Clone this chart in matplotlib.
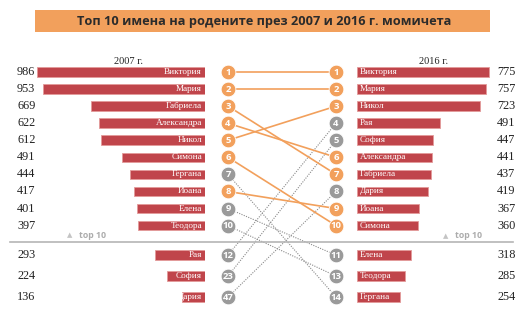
import matplotlib
matplotlib.use("Agg")
import matplotlib.pyplot as plt
from matplotlib.patches import Rectangle
from matplotlib.lines import Line2D

# ---------------- data ----------------
names_2007 = ["Виктория", "Мария", "Габриела", "Александра", "Никол", "Симона",
              "Гергана", "Йоана", "Елена", "Теодора", "Рая", "София", "Дария"]
counts_2007 = [986, 953, 669, 622, 612, 491, 444, 417, 401, 397, 293, 224, 136]
ranks_2007 = [1, 2, 3, 4, 5, 6, 7, 8, 9, 10, 12, 23, 47]

names_2016 = ["Виктория", "Мария", "Никол", "Рая", "София", "Александра",
              "Габриела", "Дария", "Йоана", "Симона", "Елена", "Теодора", "Гергана"]
counts_2016 = [775, 757, 723, 491, 447, 441, 437, 419, 367, 360, 318, 285, 254]
ranks_2016 = [1, 2, 3, 4, 5, 6, 7, 8, 9, 10, 11, 13, 14]

title = "Топ 10 имена на родените през 2007 и 2016 г. момичета"
year_left = "2007 г."
year_right = "2016 г."

# ---------------- layout / style ----------------
W, H = 520, 322
slot_y = [0, 1, 2, 3, 4, 5, 6, 7, 8, 9, 10.73, 11.96, 13.19]
YLIM = (14.65, -4.22)
SCALE = 0.17  # px per unit
BAR_C = "#C0454B"
BAR_EDGE = "#E39A9A"
ORANGE = "#F2A05C"
GRAY = "#9A9A9A"
SERIF = "Liberation Serif"

fig = plt.figure(figsize=(W / 100, H / 100), dpi=100)
fig.patch.set_facecolor("white")


def px_to_fy(py):
    return 1 - py / H


# title
fig.add_artist(Rectangle((35 / W, px_to_fy(32)), 455 / W, 22 / H,
                         transform=fig.transFigure, facecolor=ORANGE,
                         edgecolor="none", zorder=0))
fig.text(264 / W, px_to_fy(21), title, ha="center", va="center",
         fontsize=9.2, fontweight="bold", family="Open Sans", color="#2b2b2b")

fig.text(129 / W, px_to_fy(62), year_left, ha="center", va="center",
         fontsize=7.5, family=SERIF, color="#222222")
fig.text(434 / W, px_to_fy(62), year_right, ha="center", va="center",
         fontsize=7.5, family=SERIF, color="#222222")

# left bars
axL = fig.add_axes([0, 0, 205 / W, 1])
axL.set_xlim(205 / SCALE, 0)
axL.set_ylim(*YLIM)
axL.barh(slot_y, counts_2007, height=0.56, color=BAR_C, edgecolor=BAR_EDGE,
         linewidth=0.6)
for y, n, v in zip(slot_y, names_2007, counts_2007):
    axL.annotate(n, (0, y), xytext=(-2.2, 0), textcoords="offset points",
                 ha="right", va="center", color="white", fontsize=6.6,
                 family=SERIF)
    axL.text(17 / 205, y, str(v), transform=axL.get_yaxis_transform(),
             ha="left", va="center", fontsize=8.8, family=SERIF,
             color="#222222")
axL.axis("off")

# right bars
axR = fig.add_axes([357 / W, 0, 163 / W, 1])
axR.set_xlim(0, 163 / SCALE)
axR.set_ylim(*YLIM)
axR.barh(slot_y, counts_2016, height=0.56, color=BAR_C, edgecolor=BAR_EDGE,
         linewidth=0.6)
for y, n, v in zip(slot_y, names_2016, counts_2016):
    axR.annotate(n, (0, y), xytext=(2.2, 0), textcoords="offset points",
                 ha="left", va="center", color="white", fontsize=6.6,
                 family=SERIF)
    axR.text(140 / 163, y, str(v), transform=axR.get_yaxis_transform(),
             ha="left", va="center", fontsize=8.8, family=SERIF,
             color="#222222")
axR.axis("off")

# middle: slope lines and rank circles
axM = fig.add_axes([228 / W, 0, 108 / W, 1])
axM.set_xlim(0, 1)
axM.set_ylim(*YLIM)
axM.axis("off")

for i, n in enumerate(names_2007):
    j = names_2016.index(n)
    both = ranks_2007[i] <= 10 and ranks_2016[j] <= 10
    if both:
        axM.plot([0, 1], [slot_y[i], slot_y[j]], color=ORANGE, lw=1.2,
                 zorder=2, solid_capstyle="butt")
    else:
        axM.plot([0, 1], [slot_y[i], slot_y[j]], color="#8a8a8a", lw=0.8,
                 ls=(0, (1, 1.2)), zorder=1)

for i, n in enumerate(names_2007):
    j = names_2016.index(n)
    c = ORANGE if (ranks_2007[i] <= 10 and ranks_2016[j] <= 10) else GRAY
    axM.scatter([0], [slot_y[i]], s=112, color=c, edgecolor="white",
                linewidth=0.6, zorder=3, clip_on=False)
    axM.text(0, slot_y[i], str(ranks_2007[i]), ha="center", va="center",
             color="white", fontsize=6.8, fontweight="bold", zorder=4,
             family="Open Sans")

for j, n in enumerate(names_2016):
    i = names_2007.index(n)
    c = ORANGE if (ranks_2007[i] <= 10 and ranks_2016[j] <= 10) else GRAY
    axM.scatter([1], [slot_y[j]], s=112, color=c, edgecolor="white",
                linewidth=0.6, zorder=3, clip_on=False)
    axM.text(1, slot_y[j], str(ranks_2016[j]), ha="center", va="center",
             color="white", fontsize=6.8, fontweight="bold", zorder=4,
             family="Open Sans")

# separator & "top 10" markers
sep_y = px_to_fy(242)
fig.add_artist(Line2D([10 / W, 513 / W], [sep_y, sep_y],
                      transform=fig.transFigure, color="#b5b5b5", lw=1.2))
for tx, ty in [(70, 235), (446, 236)]:
    fig.text(tx / W, px_to_fy(ty), "▲", ha="center", va="center",
             fontsize=5, color="#c4c4c4", family="DejaVu Sans")
    fig.text((tx + 9) / W, px_to_fy(ty), "top 10", ha="left", va="center",
             fontsize=6.3, fontweight="bold", color="#acacac",
             family="Open Sans")

fig.savefig("out.png", dpi=100, facecolor="white")
